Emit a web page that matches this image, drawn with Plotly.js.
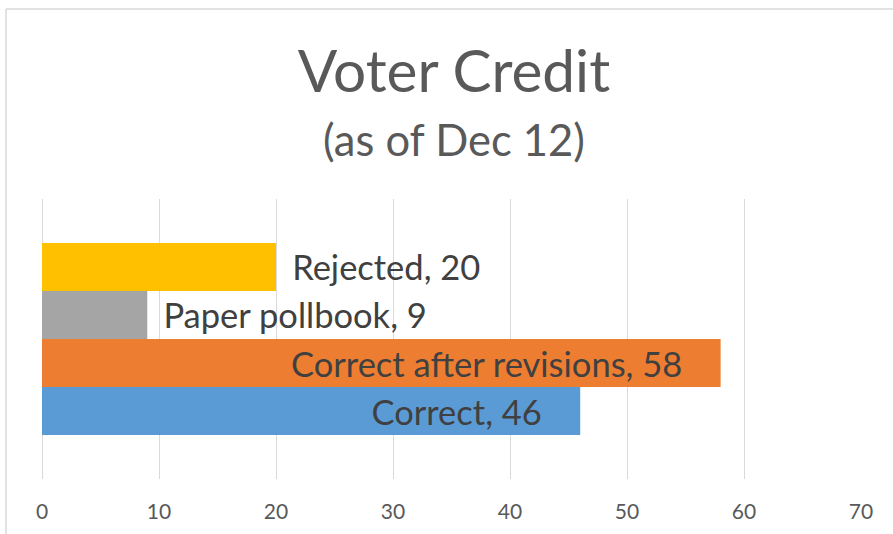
<!DOCTYPE html>
<html>
<head>
<meta charset="utf-8">
<script src="https://cdn.plot.ly/plotly-3.0.1.min.js"></script>
<style>
  html, body { margin: 0; padding: 0; background: #fff; }
  #chart { width: 893px; height: 534px; }
</style>
</head>
<body>
<div id="chart"></div>
<script>
// Data (bottom to top in the chart)
const seriesNames = ["Correct", "Correct after revisions", "Paper pollbook", "Rejected"];
const seriesValues = [46, 58, 9, 20];
const seriesColors = ["#5B9BD5", "#ED7D31", "#A5A5A5", "#FFC000"];
const labelPositions = ["inside", "inside", "outside", "outside"];
const category = ["Voter Credit"];
const tickValues = [0, 10, 20, 30, 40, 50, 60, 70];
const tickLabels = ["0", "10", "20", "30", "40", "50", "60", "70"];

const FONT = "Lato, 'Open Sans', sans-serif";
const NB = "\u00a0";
const LABEL_SIZE = 34.5;

const traces = seriesNames.map((name, i) => {
  const inside = labelPositions[i] === "inside";
  const label = name + ", " + seriesValues[i];
  return {
    type: "bar",
    orientation: "h",
    name: name,
    x: [seriesValues[i]],
    y: category,
    marker: { color: seriesColors[i], line: { width: 0 } },
    text: [inside ? label + NB.repeat(4) : NB + "\u2009" + label],
    textposition: labelPositions[i],
    insidetextanchor: "end",
    constraintext: "none",
    cliponaxis: false,
    textfont: { family: FONT, size: LABEL_SIZE, color: "#404040" },
    insidetextfont: { family: FONT, size: LABEL_SIZE, color: "#404040" },
    outsidetextfont: { family: FONT, size: LABEL_SIZE, color: "#404040" },
    hoverinfo: "skip",
    showlegend: false
  };
});

const layout = {
  width: 893,
  height: 534,
  paper_bgcolor: "#ffffff",
  plot_bgcolor: "#ffffff",
  margin: { l: 42, r: 32, t: 199, b: 55, pad: 0 },
  barmode: "group",
  bargap: 0.314,
  bargroupgap: 0,
  showlegend: false,
  font: { family: FONT, color: "#595959" },
  title: {
    text: "Voter Credit",
    font: { family: FONT, size: 58.5, color: "#595959" },
    x: 0.5084,
    xanchor: "center",
    xref: "container",
    y: 0.866,
    yanchor: "middle",
    yref: "container"
  },
  annotations: [{
    text: "(as of Dec 12)",
    xref: "paper", yref: "paper",
    x: 0.5034, y: 1.214,
    xanchor: "center", yanchor: "middle",
    showarrow: false,
    font: { family: FONT, size: 43.5, color: "#595959" }
  }],
  xaxis: {
    range: [0, 70],
    tickmode: "array",
    tickvals: tickValues,
    ticktext: tickLabels,
    showgrid: true,
    gridcolor: "#d9d9d9",
    gridwidth: 1,
    zeroline: true,
    zerolinecolor: "#d9d9d9",
    zerolinewidth: 1,
    showline: false,
    ticks: "outside",
    ticklen: 14,
    tickcolor: "rgba(0,0,0,0)",
    tickfont: { family: FONT, size: 21, color: "#595959" },
    fixedrange: true
  },
  yaxis: {
    type: "category",
    range: [-0.5, 0.5],
    showticklabels: false,
    showgrid: false,
    zeroline: false,
    showline: false,
    ticks: "",
    fixedrange: true
  },
  shapes: [
    // chart-area border (top and left edges visible in the crop)
    { type: "line", xref: "paper", yref: "paper",
      x0: (6 - 42) / 819, x1: (893 - 42) / 819,
      y0: (479 - 9) / 280, y1: (479 - 9) / 280,
      line: { color: "#d9d9d9", width: 1.5 } },
    { type: "line", xref: "paper", yref: "paper",
      x0: (6 - 42) / 819, x1: (6 - 42) / 819,
      y0: (479 - 9) / 280, y1: (479 - 534) / 280,
      line: { color: "#d9d9d9", width: 1.5 } }
  ]
};

Plotly.newPlot("chart", traces, layout, { displayModeBar: false, staticPlot: true });
</script>
</body>
</html>
